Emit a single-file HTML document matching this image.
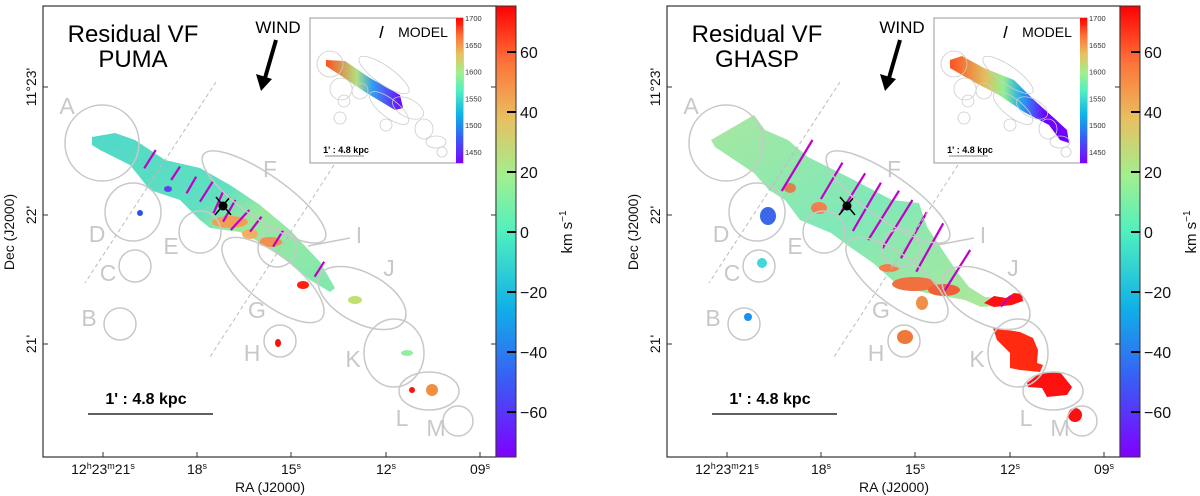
<!DOCTYPE html>
<html><head><meta charset="utf-8">
<style>
html,body{margin:0;padding:0;background:#fff;}
svg{display:block;font-family:"Liberation Sans","DejaVu Sans",sans-serif;}
</style></head>
<body>
<svg id="fig" width="1200" height="496" viewBox="0 0 1200 496">
<defs>
 <linearGradient id="rainbow" x1="0" y1="1" x2="0" y2="0">
  <stop offset="0" stop-color="#8000ff"/><stop offset="0.17" stop-color="#3a5cf5"/>
  <stop offset="0.33" stop-color="#10b0e8"/><stop offset="0.5" stop-color="#50f0c0"/>
  <stop offset="0.62" stop-color="#a0f090"/><stop offset="0.75" stop-color="#e8c060"/>
  <stop offset="0.88" stop-color="#ff7038"/><stop offset="1" stop-color="#ff0000"/>
 </linearGradient>
 <linearGradient id="inPuma" x1="0" y1="0" x2="1" y2="0">
  <stop offset="0" stop-color="#ff5020"/><stop offset="0.4" stop-color="#b0e080"/>
  <stop offset="0.6" stop-color="#30a0f0"/><stop offset="1" stop-color="#7000ff"/>
 </linearGradient>
 <linearGradient id="inGhasp" x1="0" y1="0" x2="1" y2="0">
  <stop offset="0" stop-color="#ff5020"/><stop offset="0.3" stop-color="#e0c060"/>
  <stop offset="0.45" stop-color="#90f090"/><stop offset="0.6" stop-color="#20a8f0"/>
  <stop offset="0.8" stop-color="#7000ff"/><stop offset="1" stop-color="#7000ff"/>
 </linearGradient>
 <linearGradient id="pumaBody" x1="0" y1="0" x2="1" y2="1">
  <stop offset="0" stop-color="#50d8c8"/><stop offset="0.45" stop-color="#60e0c0"/>
  <stop offset="0.6" stop-color="#9ae8a0"/><stop offset="1" stop-color="#80e8b0"/>
 </linearGradient>
 <linearGradient id="ghaspBody" x1="0" y1="0" x2="1" y2="1">
  <stop offset="0" stop-color="#a8e8a0"/><stop offset="0.5" stop-color="#80e8b8"/>
  <stop offset="1" stop-color="#b0e898"/>
 </linearGradient>
</defs>
<g id="root"></g>
</svg>
<script>
const cbTicks=[60,40,20,0,-20,-40,-60];
const raLabels=["12h23m21s","18s","15s","12s","09s"];
const decLabels=["11°23'","22'","21'"];
const insetTicks=[1700,1650,1600,1550,1500,1450];
const regionNames=["A","B","C","D","E","F","G","H","I","J","K","L","M"];
const NS="http://www.w3.org/2000/svg";
const root=document.getElementById('root');
function mk(tag,attrs,parent){const e=document.createElementNS(NS,tag);for(const k in attrs)e.setAttribute(k,attrs[k]);(parent||root).appendChild(e);return e;}
function txt(s,attrs,parent){const e=mk('text',attrs,parent);e.textContent=s;return e;}
const cbY=v=>232-v*3;
const insY=v=>18+(1700-v)*0.536;
const raX=[103,197,291,386,480];
const decY=[87,215,344];

function panel(dx,name,title,body,bodyPts,extra,polys,magenta,insetGrad,insetPts){
 const g=mk('g',{transform:`translate(${dx},0)`});
 
 
 const b=mk('polygon',{points:bodyPts,fill:body},g);
 
 
 extra.forEach(e=>{const r=mk('ellipse',{cx:e[0],cy:e[1],rx:e[2],ry:e[3],fill:e[4]},g);
  });
 polys.forEach(p=>{const r=mk('polygon',{points:p[0],fill:p[1]},g);
  });
 magenta.forEach(m=>{const l=mk('line',{x1:m[0]/2.6,y1:m[1]/3,x2:m[2]/2.6,y2:m[3]/3,stroke:'#c000c8','stroke-width':2.2},g);
  });
 const st=mk('g',{},g);
 mk('circle',{cx:223,cy:206,r:4.5,fill:'#000'},st);
 mk('line',{x1:216,y1:197,x2:231,y2:215,stroke:'#000','stroke-width':1.5},st);
 mk('line',{x1:230,y1:197,x2:215,y2:215,stroke:'#000','stroke-width':1.5},st);
 const gc='#c8c8c8';
 const circ=[[102,143,37,38],[120,324,16,16],[135,266,16,16],[133,212,28,29],[200,232,21,21],[264,197,74,22,35],[273,280,62,24,38],[280,341,16,16],[277,248,19,19],[362,298,48,25,28],[394,353,30,34],[429,391,30,19],[458,421,15,15]];
 circ.forEach((c,i)=>{const e=mk('ellipse',{cx:c[0],cy:c[1],rx:c[2],ry:c[3],fill:'none',stroke:gc,'stroke-width':1.5,transform:c[4]?`rotate(${c[4]} ${c[0]} ${c[1]})`:''},g);
  });
 const lp=[[67,106],[89,318],[108,273],[97,234],[171,246],[270,169],[257,310],[252,353],[359,235],[389,268],[353,359],[402,418],[436,428]];
 lp.forEach((p,i)=>{const t=txt(regionNames[i],{x:p[0],y:p[1]+8,'font-size':23,fill:gc,'text-anchor':'middle'},g);
  });
 const il=mk('line',{x1:350,y1:238,x2:308,y2:246,stroke:gc,'stroke-width':1.5},g);
 
 [[216,82,85,283],[334,165,210,357]].forEach(d=>{const l=mk('line',{x1:d[0],y1:d[1],x2:d[2],y2:d[3],stroke:'#bbb','stroke-width':1,'stroke-dasharray':'4,3'},g);
  });
 const t1=txt('Residual VF',{x:133,y:42,'font-size':24,'text-anchor':'middle',fill:'#000'},g);
 
 const t2=txt(title,{x:133,y:67,'font-size':24,'text-anchor':'middle',fill:'#000'},g);
 
 const w=txt('WIND',{x:278,y:33,'font-size':17,'text-anchor':'middle',fill:'#000'},g);
 
 const wa=mk('g',{},g);
 mk('line',{x1:276,y1:40,x2:265,y2:78,stroke:'#000','stroke-width':4},wa);
 mk('polygon',{points:'256,74 272,79 261,91',fill:'#000'},wa);
 const sb=txt("1' : 4.8 kpc",{x:146,y:404,'font-size':16,'font-weight':'bold','text-anchor':'middle',fill:'#000'},g);
 
 const sl=mk('line',{x1:88,y1:414,x2:213,y2:414,stroke:'#000','stroke-width':1.3},g);
 
 const ins=mk('g',{},g);
 mk('rect',{x:310,y:18,width:153,height:145,fill:'#fff',stroke:'#999','stroke-width':1},ins);
 const ip=mk('polygon',{points:insetPts,fill:insetGrad},ins);
 
 [[330,64,13],[341,89,11],[344,101,6],[340,118,6],[360,91,8],[384,75,30,9,35],[389,108,24,9,38],[386,125,6],[408,108,17,9,28],[424,129,9,10],[436,142,10,6],[442,152,5,5]].forEach(c=>{
  mk('ellipse',{cx:c[0],cy:c[1],rx:c[2],ry:c[3]||c[2],fill:'none',stroke:'#ccc','stroke-width':0.8,transform:c[4]?`rotate(${c[4]} ${c[0]} ${c[1]})`:''},ins);});
 const mt=txt('MODEL',{x:423,y:37,'font-size':14,'text-anchor':'middle',fill:'#000'},ins);
 
 mk('line',{x1:383,y1:26,x2:380,y2:38,stroke:'#000','stroke-width':1.5},ins);
 const ist=txt("1' : 4.8 kpc",{x:346,y:153,'font-size':9,'font-weight':'bold','text-anchor':'middle',fill:'#000'},ins);
 
 mk('line',{x1:325,y1:156,x2:364,y2:156,stroke:'#888','stroke-width':1},ins);
 const icb=mk('rect',{x:456,y:18,width:7,height:145,fill:'url(#rainbow)'},ins);
 
 insetTicks.forEach(v=>{const t=txt(String(v),{x:465,y:insY(v)+3,'font-size':7.5,fill:'#333'},ins);
  });
 const fr=mk('rect',{x:43,y:6,width:453,height:451,fill:'none',stroke:'#333','stroke-width':1.2},g);
 
 raLabels.forEach((s,i)=>{mk('line',{x1:raX[i],y1:457,x2:raX[i],y2:452,stroke:'#333'},g);
  let t=mk('text',{x:raX[i],y:474,'font-size':14,'text-anchor':'middle',fill:'#111'},g);
  if(s==="12h23m21s"){
   t.innerHTML='12<tspan font-size="9" dy="-5">h</tspan><tspan dy="5">23</tspan><tspan font-size="9" dy="-5">m</tspan><tspan dy="5">21</tspan><tspan font-size="9" dy="-5">s</tspan>';}
  else{t.innerHTML=s.slice(0,2)+'<tspan font-size="9" dy="-5">s</tspan>';}
  });
 decLabels.forEach((s,i)=>{mk('line',{x1:43,y1:decY[i],x2:48,y2:decY[i],stroke:'#333'},g);
  mk('line',{x1:496,y1:decY[i],x2:491,y2:decY[i],stroke:'#333'},g);
  const t=txt(s,{x:0,y:0,'font-size':14,'text-anchor':'middle',fill:'#111',transform:`translate(36 ${decY[i]}) rotate(-90)`},g);
  });
 const xa=txt('RA (J2000)',{x:270,y:492,'font-size':14,'text-anchor':'middle',fill:'#111'},g);
 
 const ya=txt('Dec (J2000)',{x:0,y:0,'font-size':14,'text-anchor':'middle',fill:'#111',transform:'translate(14 232) rotate(-90)'},g);
 
 const cb=mk('rect',{x:496,y:6,width:20,height:451,fill:'url(#rainbow)',stroke:'#333','stroke-width':1},g);
 
 cbTicks.forEach(v=>{mk('line',{x1:507,y1:cbY(v),x2:516,y2:cbY(v),stroke:'#000','stroke-width':2},g);
  const t=txt(String(v).replace('-','\u2212'),{x:520,y:cbY(v)+6,'font-size':16,fill:'#111'},g);
  });
 const cl=mk('text',{x:0,y:0,'font-size':15,'text-anchor':'middle',fill:'#111',transform:'translate(572 232) rotate(-90)'},g);
 cl.innerHTML='km s<tspan font-size="10" dy="-6">−1</tspan>';
 
}

panel(0,'puma','PUMA','url(#pumaBody)',
 '92,137 115,133 135,140 165,160 200,168 230,185 260,205 290,230 320,262 335,288 330,292 310,280 290,262 265,245 240,232 210,228 200,220 180,200 150,190 130,165 100,150 92,145',
 [[230,222,18,6,'#f0a050'],[270,242,12,5,'#f09050'],[250,234,8,5,'#f0b060'],[303,285,6,4,'#ff2010'],[355,300,7,4,'#c0e070'],[278,343,3,4,'#ff1010'],[407,353,6,3,'#90f0a0'],[412,390,3,3,'#ff1010'],[432,390,6,6,'#f09040'],[140,213,3,3,'#3050f0'],[168,189,4,3,'#6040f0']],
 [],
 [[405,450,375,505],[468,500,445,540],[510,530,485,580],[553,545,520,605],[580,575,555,640],[612,600,580,665],[648,630,600,690],[680,650,650,695],[737,690,710,740],[843,785,818,830]],
 'url(#inPuma)','326,60 345,61 370,78 400,95 403,108 395,110 365,92 340,75 326,66');

panel(624,'ghasp','GHASP','url(#ghaspBody)',
 '87,140 130,115 141,130 164,140 184,157 230,180 268,200 295,203 303,227 334,273 345,287 361,297 379,298 383,305 357,307 341,300 303,293 276,287 249,263 226,247 207,233 176,220 161,200 145,190 130,173 91,147',
 [[290,284,22,7,'#f07040'],[320,290,16,6,'#f06038'],[265,268,10,4,'#f08048'],[451,415,7,7,'#ff1010'],[281,337,8,7,'#f07838'],[144,216,8,9,'#3a68e8'],[138,263,5,5,'#40d8d8'],[124,317,4,4,'#1a90f0'],[298,303,6,7,'#f09048'],[166,188,6,5,'#e08050'],[195,208,8,6,'#f08050']],
 [['360,303 370,296 382,298 390,293 398,294 399,301 388,305 370,307','#ff1010'],
  ['369,328 383,330 396,332 409,338 414,350 413,363 419,365 416,372 396,370 386,368 386,353 373,340','#ff2a10'],
  ['403,383 416,373 436,372 448,387 443,395 423,397 418,388 404,387','#ff1010']],
 [[490,420,410,573],[568,488,512,597],[627,520,565,635],[668,548,595,693],[715,572,635,720],[750,600,672,745],[787,637,720,775],[830,670,760,815],[900,750,832,875],[1005,888,980,920]],
 'url(#inGhasp)','326,60 338,56 360,68 390,80 410,100 430,118 443,130 445,143 436,140 425,125 400,112 375,95 350,82 326,68');
</script>
</body></html>
